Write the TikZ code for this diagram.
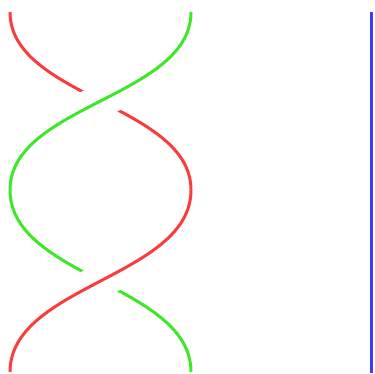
\documentclass[tikz,border=0pt]{standalone}
\definecolor{strandred}{RGB}{250,60,60}
\definecolor{strandgreen}{RGB}{60,232,40}
\definecolor{strandblue}{RGB}{60,60,250}
\begin{document}
\begin{tikzpicture}[x=1pt,y=-1pt,
        strand/.style={line width=3pt},
        over/.style={preaction={draw=white,line width=34pt}}]
        \useasboundingbox (0,0) rectangle (375,373);

        % top crossing: green over red
        \draw[strand,strandred] (10,12) .. controls (10,97) and (191,105) .. (191,190);
        \draw[strand,strandgreen,over] (191,12) .. controls (191,97) and (10,105) .. (10,190);

        % bottom crossing: red over green
        \draw[strand,strandgreen] (10,190) .. controls (10,277) and (191,285) .. (191,372);
        \draw[strand,strandred,over] (191,190) .. controls (191,277) and (10,285) .. (10,372);

        \draw[strand,strandblue] (371.5,12) -- (371.5,373);
    \end{tikzpicture}
\end{document}
